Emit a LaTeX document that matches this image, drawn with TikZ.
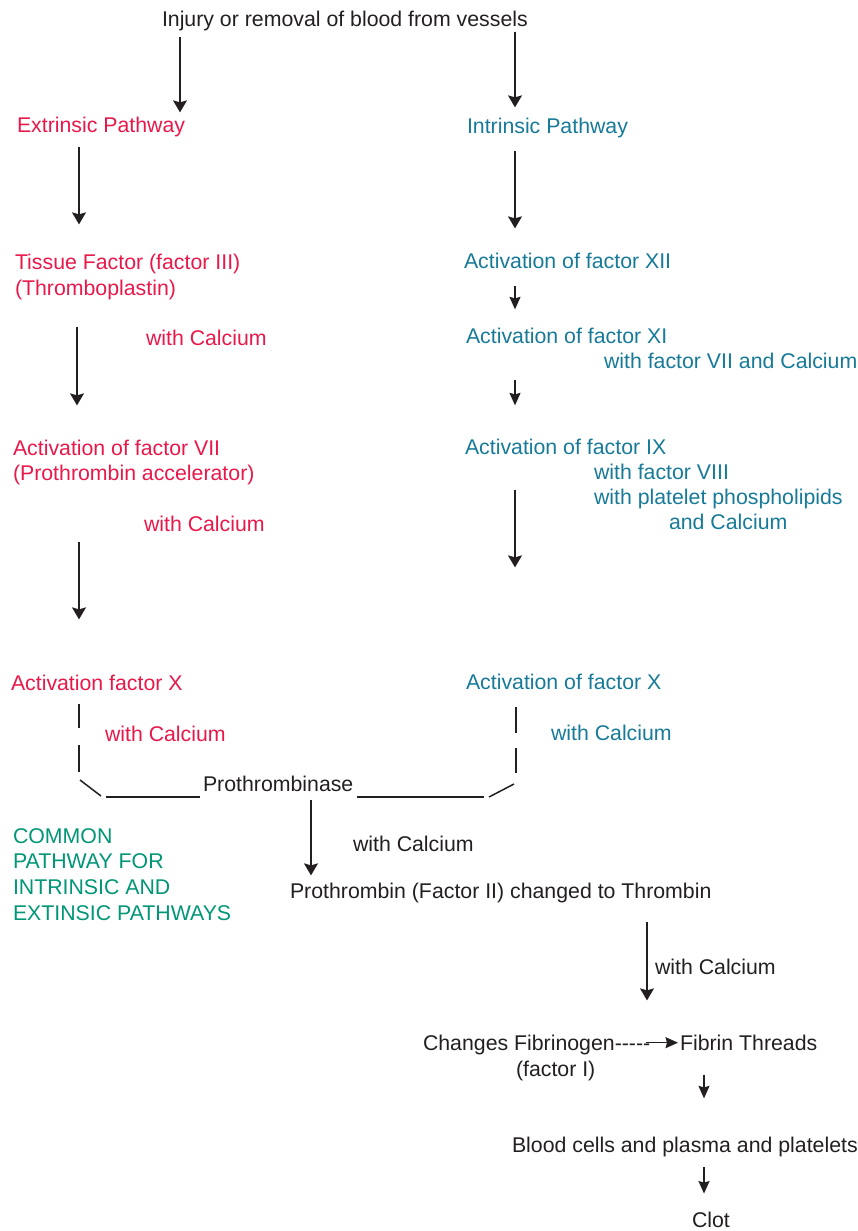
\documentclass[tikz,border=0pt]{standalone}
\usepackage{fontspec}
\setmainfont{Liberation Sans}
\usetikzlibrary{arrows.meta}
\definecolor{redc}{RGB}{232,24,74}
\definecolor{bluec}{RGB}{22,122,152}
\definecolor{greenc}{RGB}{0,150,118}
\definecolor{ink}{RGB}{35,31,32}
\newcommand{\hy}{\mbox{-}}
\begin{document}
\begin{tikzpicture}[x=1pt,y=-1pt,
  lbl/.style={anchor=base west, inner sep=0pt, outer sep=0pt, font=\fontsize{21.3}{25.7}\selectfont, text=ink},
  extc/.style={lbl, text=redc},
  intc/.style={lbl, text=bluec},
  comc/.style={lbl, text=greenc},
  arr/.style={draw=ink, line width=1.5pt, -{Stealth[length=12pt,width=14pt,inset=2pt]}},
  sarr/.style={draw=ink, line width=1.5pt, -{Stealth[length=12.5pt,width=11pt,inset=1.5pt]}},
  ln/.style={draw=ink, line width=1.5pt}]
\useasboundingbox (0,0) rectangle (858,1231);

% columns
\coordinate (cA) at (180,0);
\coordinate (cB) at (515,0);
\coordinate (cC) at (79,0);
\coordinate (cD) at (77,0);
\coordinate (cE) at (311,0);
\coordinate (cF) at (647,0);
\coordinate (cG) at (704,0);

% texts
\node[lbl] (inj) at (162,26.2) {Injury or removal of blood from vessels};
\node[extc] (ext) at (17,132.3) {Extrinsic Pathway};
\node[intc] (intr) at (467,133.3) {Intrinsic Pathway};
\node[extc] (tf1) at (15,269.3) {Tissue Factor (factor III)};
\node[extc] (tf2) at (15,295.3) {(Thromboplastin)};
\node[intc] (xii) at (464,268.3) {Activation of factor XII};
\node[extc] (wc1) at (146,345.3) {with Calcium};
\node[intc] (xi) at (466,343.3) {Activation of factor XI};
\node[intc] (xib) at (604,368.3) {with factor VII and Calcium};
\node[extc] (vii1) at (13,455.3) {Activation of factor VII};
\node[extc] (vii2) at (13,480.3) {(Prothrombin accelerator)};
\node[intc] (ix) at (465,454.3) {Activation of factor IX};
\node[intc] (ixb) at (594,479.3) {with factor VIII};
\node[intc] (ixc) at (594,504.3) {with platelet phospholipids};
\node[intc] (ixd) at (669,529.3) {and Calcium};
\node[extc] (wc2) at (144,531.3) {with Calcium};
\node[extc] (xL) at (11,690.3) {Activation factor X};
\node[intc] (xR) at (466,689.3) {Activation of factor X};
\node[extc] (wc3) at (105,741.3) {with Calcium};
\node[intc] (wc4) at (551,740.3) {with Calcium};
\node[lbl] (pro) at (203,791.3) {Prothrombinase};
\node[lbl] (wc5) at (353,851.3) {with Calcium};
\node[comc] (com1) at (13,843.3) {COMMON};
\node[comc] (com2) at (13,868.3) {PATHWAY FOR};
\node[comc] (com3) at (13,894.3) {INTRINSIC AND};
\node[comc] (com4) at (13,920.3) {EXTINSIC PATHWAYS};
\node[lbl] (pth) at (290,898.3) {Prothrombin (Factor II) changed to Thrombin};
\node[lbl] (wc6) at (655,974.3) {with Calcium};
\node[lbl] (fib) at (423,1050.3) {Changes Fibrinogen\hy\hy\hy\hy\hy};
\node[lbl] (fth) at (680,1050.3) {Fibrin Threads};
\node[lbl] (fi) at (516,1076.3) {(factor I)};
\node[lbl] (blood) at (512,1152.3) {Blood cells and plasma and platelets};
\node[lbl] (clot) at (692,1227.5) {Clot};

% arrows
\draw[arr, shorten <=6.8pt, shorten >=4.5pt] (inj.south -| cA) -- (ext.north -| cA);
\draw[arr, shorten <=1pt, shorten >=10.5pt] (inj.south -| cB) -- (intr.north -| cB);
\draw[arr, shorten <=10.5pt, shorten >=29.5pt] (ext.south -| cC) -- (tf1.north -| cC);
\draw[arr, shorten <=13.5pt, shorten >=24.5pt] (intr.south -| cB) -- (xii.north -| cB);
\draw[sarr, shorten <=17pt, shorten >=18.5pt] (xii.south -| cB) -- (xi.north -| cB);
\draw[arr, shorten <=27.5pt, shorten >=34.5pt] (tf2.south -| cD) -- (vii1.north -| cD);
\draw[sarr, shorten <=36pt, shorten >=33.5pt] (xi.south -| cB) -- (ix.north -| cB);
\draw[arr, shorten <=35pt, shorten >=106.5pt] (ix.south -| cB) -- (xR.north -| cB);
\draw[arr, shorten <=57.5pt, shorten >=55.5pt] (vii2.south -| cC) -- (xL.north -| cC);
\draw[arr, shorten <=8pt, shorten >=7.5pt] (pro.south -| cE) -- (pth.north -| cE);
\draw[arr, shorten <=19.5pt, shorten >=34.5pt] (pth.south -| cF) -- (fib.north -| cF);
\draw[sarr, shorten <=-4pt, shorten >=2pt] (fib.east |- fth.west) -- (fth.west);
\draw[sarr, shorten <=24pt, shorten >=38.5pt] (fth.south -| cG) -- (blood.north -| cG);
\draw[sarr, shorten <=10.5pt, shorten >=18.5pt] (blood.south -| cG) -- (clot.north -| cG);

% bracket joining the two factor X activations into prothrombinase
\coordinate (l1) at (79,704);
\coordinate (l2) at (79,728);
\coordinate (l3) at (79,745);
\coordinate (l4) at (79,772);
\coordinate (l5) at (80,780);
\coordinate (l6) at (101,796);
\coordinate (l7) at (106,797);
\coordinate (l8) at (200,797);
\coordinate (r1) at (516,707);
\coordinate (r2) at (516,733);
\coordinate (r3) at (516,748);
\coordinate (r4) at (516,773);
\coordinate (r5) at (514,784);
\coordinate (r6) at (489,797);
\coordinate (r7) at (484,797);
\coordinate (r8) at (357,797);
\draw[ln] (l1) -- (l2);
\draw[ln] (l3) -- (l4);
\draw[ln] (l5) -- (l6);
\draw[ln] (l7) -- (l8);
\draw[ln] (r1) -- (r2);
\draw[ln] (r3) -- (r4);
\draw[ln] (r5) -- (r6);
\draw[ln] (r7) -- (r8);
\end{tikzpicture}
\end{document}
